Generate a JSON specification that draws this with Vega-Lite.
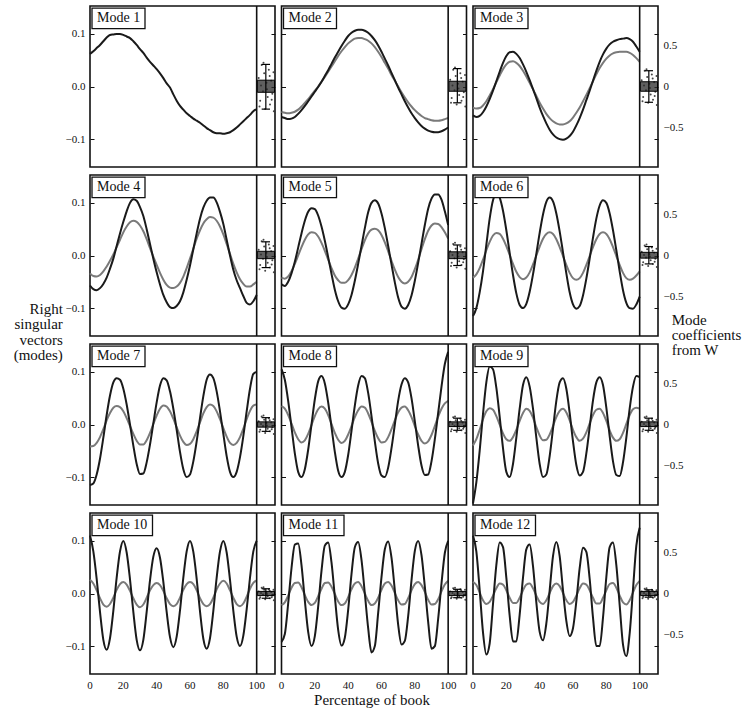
{
"$schema":"https://vega.github.io/schema/vega-lite/v6.json",
"background":"white",
"padding":{"left":13,"top":4,"right":1,"bottom":5},
"bounds":"flush",
"data":{"values":[
{"t":"E","m":1,"label":"Mode 1","hi":0.042,"lo":-0.043,"bhi":0.012,"blo":-0.011},
{"t":"E","m":2,"label":"Mode 2","hi":0.034,"lo":-0.031,"bhi":0.010,"blo":-0.009},
{"t":"E","m":3,"label":"Mode 3","hi":0.030,"lo":-0.030,"bhi":0.009,"blo":-0.009},
{"t":"E","m":4,"label":"Mode 4","hi":0.026,"lo":-0.023,"bhi":0.008,"blo":-0.006},
{"t":"E","m":5,"label":"Mode 5","hi":0.020,"lo":-0.019,"bhi":0.007,"blo":-0.006},
{"t":"E","m":6,"label":"Mode 6","hi":0.017,"lo":-0.016,"bhi":0.006,"blo":-0.005},
{"t":"E","m":7,"label":"Mode 7","hi":0.013,"lo":-0.013,"bhi":0.005,"blo":-0.005},
{"t":"E","m":8,"label":"Mode 8","hi":0.012,"lo":-0.011,"bhi":0.005,"blo":-0.004},
{"t":"E","m":9,"label":"Mode 9","hi":0.012,"lo":-0.011,"bhi":0.005,"blo":-0.004},
{"t":"E","m":10,"label":"Mode 10","hi":0.009,"lo":-0.009,"bhi":0.004,"blo":-0.004},
{"t":"E","m":11,"label":"Mode 11","hi":0.008,"lo":-0.008,"bhi":0.004,"blo":-0.004},
{"t":"E","m":12,"label":"Mode 12","hi":0.007,"lo":-0.007,"bhi":0.004,"blo":-0.004},

{"t":"X","m":10,"v":0},{"t":"X","m":10,"v":20},{"t":"X","m":10,"v":40},{"t":"X","m":10,"v":60},{"t":"X","m":10,"v":80},{"t":"X","m":10,"v":100},
{"t":"X","m":11,"v":0},{"t":"X","m":11,"v":20},{"t":"X","m":11,"v":40},{"t":"X","m":11,"v":60},{"t":"X","m":11,"v":80},{"t":"X","m":11,"v":100},
{"t":"X","m":12,"v":0},{"t":"X","m":12,"v":20},{"t":"X","m":12,"v":40},{"t":"X","m":12,"v":60},{"t":"X","m":12,"v":80},{"t":"X","m":12,"v":100},

{"t":"L","m":1,"x":0,"d":0.062},{"t":"L","m":1,"x":2,"d":0.067},{"t":"L","m":1,"x":4,"d":0.073},{"t":"L","m":1,"x":6,"d":0.079},{"t":"L","m":1,"x":8,"d":0.086},{"t":"L","m":1,"x":10,"d":0.093},{"t":"L","m":1,"x":12,"d":0.098},{"t":"L","m":1,"x":14,"d":0.099},{"t":"L","m":1,"x":16,"d":0.100},{"t":"L","m":1,"x":18,"d":0.100},{"t":"L","m":1,"x":20,"d":0.098},{"t":"L","m":1,"x":22,"d":0.095},{"t":"L","m":1,"x":24,"d":0.092},{"t":"L","m":1,"x":26,"d":0.086},{"t":"L","m":1,"x":28,"d":0.079},{"t":"L","m":1,"x":30,"d":0.071},{"t":"L","m":1,"x":32,"d":0.064},{"t":"L","m":1,"x":34,"d":0.055},{"t":"L","m":1,"x":36,"d":0.047},{"t":"L","m":1,"x":38,"d":0.040},{"t":"L","m":1,"x":40,"d":0.033},{"t":"L","m":1,"x":42,"d":0.025},{"t":"L","m":1,"x":44,"d":0.016},{"t":"L","m":1,"x":46,"d":0.006},{"t":"L","m":1,"x":48,"d":-0.002},{"t":"L","m":1,"x":50,"d":-0.015},{"t":"L","m":1,"x":52,"d":-0.027},{"t":"L","m":1,"x":54,"d":-0.037},{"t":"L","m":1,"x":56,"d":-0.044},{"t":"L","m":1,"x":58,"d":-0.051},{"t":"L","m":1,"x":60,"d":-0.056},{"t":"L","m":1,"x":62,"d":-0.061},{"t":"L","m":1,"x":64,"d":-0.065},{"t":"L","m":1,"x":66,"d":-0.069},{"t":"L","m":1,"x":68,"d":-0.074},{"t":"L","m":1,"x":70,"d":-0.079},{"t":"L","m":1,"x":72,"d":-0.083},{"t":"L","m":1,"x":74,"d":-0.087},{"t":"L","m":1,"x":76,"d":-0.089},{"t":"L","m":1,"x":78,"d":-0.089},{"t":"L","m":1,"x":80,"d":-0.090},{"t":"L","m":1,"x":82,"d":-0.089},{"t":"L","m":1,"x":84,"d":-0.087},{"t":"L","m":1,"x":86,"d":-0.083},{"t":"L","m":1,"x":88,"d":-0.078},{"t":"L","m":1,"x":90,"d":-0.072},{"t":"L","m":1,"x":92,"d":-0.066},{"t":"L","m":1,"x":94,"d":-0.060},{"t":"L","m":1,"x":96,"d":-0.054},{"t":"L","m":1,"x":98,"d":-0.047},{"t":"L","m":1,"x":100,"d":-0.043},

{"t":"L","m":2,"x":0,"d":-0.058,"g":-0.048},{"t":"L","m":2,"x":2,"d":-0.060,"g":-0.050},{"t":"L","m":2,"x":4,"d":-0.062,"g":-0.051},{"t":"L","m":2,"x":6,"d":-0.061,"g":-0.050},{"t":"L","m":2,"x":8,"d":-0.058,"g":-0.048},{"t":"L","m":2,"x":10,"d":-0.052,"g":-0.044},{"t":"L","m":2,"x":12,"d":-0.045,"g":-0.038},{"t":"L","m":2,"x":14,"d":-0.037,"g":-0.031},{"t":"L","m":2,"x":16,"d":-0.028,"g":-0.024},{"t":"L","m":2,"x":18,"d":-0.019,"g":-0.016},{"t":"L","m":2,"x":20,"d":-0.010,"g":-0.008},{"t":"L","m":2,"x":22,"d":-0.001,"g":0.000},{"t":"L","m":2,"x":24,"d":0.009,"g":0.009},{"t":"L","m":2,"x":26,"d":0.020,"g":0.018},{"t":"L","m":2,"x":28,"d":0.031,"g":0.028},{"t":"L","m":2,"x":30,"d":0.043,"g":0.038},{"t":"L","m":2,"x":32,"d":0.055,"g":0.048},{"t":"L","m":2,"x":34,"d":0.066,"g":0.058},{"t":"L","m":2,"x":36,"d":0.077,"g":0.067},{"t":"L","m":2,"x":38,"d":0.087,"g":0.075},{"t":"L","m":2,"x":40,"d":0.096,"g":0.082},{"t":"L","m":2,"x":42,"d":0.102,"g":0.087},{"t":"L","m":2,"x":44,"d":0.106,"g":0.091},{"t":"L","m":2,"x":46,"d":0.108,"g":0.092},{"t":"L","m":2,"x":48,"d":0.108,"g":0.092},{"t":"L","m":2,"x":50,"d":0.106,"g":0.090},{"t":"L","m":2,"x":52,"d":0.102,"g":0.087},{"t":"L","m":2,"x":54,"d":0.096,"g":0.082},{"t":"L","m":2,"x":56,"d":0.088,"g":0.075},{"t":"L","m":2,"x":58,"d":0.078,"g":0.066},{"t":"L","m":2,"x":60,"d":0.066,"g":0.056},{"t":"L","m":2,"x":62,"d":0.053,"g":0.045},{"t":"L","m":2,"x":64,"d":0.040,"g":0.034},{"t":"L","m":2,"x":66,"d":0.026,"g":0.022},{"t":"L","m":2,"x":68,"d":0.012,"g":0.011},{"t":"L","m":2,"x":70,"d":-0.002,"g":0.000},{"t":"L","m":2,"x":72,"d":-0.015,"g":-0.011},{"t":"L","m":2,"x":74,"d":-0.028,"g":-0.021},{"t":"L","m":2,"x":76,"d":-0.040,"g":-0.030},{"t":"L","m":2,"x":78,"d":-0.051,"g":-0.038},{"t":"L","m":2,"x":80,"d":-0.060,"g":-0.045},{"t":"L","m":2,"x":82,"d":-0.068,"g":-0.051},{"t":"L","m":2,"x":84,"d":-0.075,"g":-0.056},{"t":"L","m":2,"x":86,"d":-0.080,"g":-0.060},{"t":"L","m":2,"x":88,"d":-0.084,"g":-0.062},{"t":"L","m":2,"x":90,"d":-0.086,"g":-0.064},{"t":"L","m":2,"x":92,"d":-0.087,"g":-0.065},{"t":"L","m":2,"x":94,"d":-0.087,"g":-0.065},{"t":"L","m":2,"x":96,"d":-0.085,"g":-0.064},{"t":"L","m":2,"x":98,"d":-0.082,"g":-0.062},{"t":"L","m":2,"x":100,"d":-0.078,"g":-0.060},

{"t":"L","m":3,"x":0,"d":-0.055,"g":-0.040},{"t":"L","m":3,"x":2,"d":-0.058,"g":-0.042},{"t":"L","m":3,"x":4,"d":-0.056,"g":-0.041},{"t":"L","m":3,"x":6,"d":-0.049,"g":-0.036},{"t":"L","m":3,"x":8,"d":-0.038,"g":-0.028},{"t":"L","m":3,"x":10,"d":-0.024,"g":-0.017},{"t":"L","m":3,"x":12,"d":-0.008,"g":-0.005},{"t":"L","m":3,"x":14,"d":0.010,"g":0.008},{"t":"L","m":3,"x":16,"d":0.028,"g":0.021},{"t":"L","m":3,"x":18,"d":0.045,"g":0.033},{"t":"L","m":3,"x":20,"d":0.058,"g":0.042},{"t":"L","m":3,"x":22,"d":0.065,"g":0.047},{"t":"L","m":3,"x":24,"d":0.066,"g":0.048},{"t":"L","m":3,"x":26,"d":0.062,"g":0.045},{"t":"L","m":3,"x":28,"d":0.054,"g":0.039},{"t":"L","m":3,"x":30,"d":0.042,"g":0.030},{"t":"L","m":3,"x":32,"d":0.028,"g":0.019},{"t":"L","m":3,"x":34,"d":0.012,"g":0.007},{"t":"L","m":3,"x":36,"d":-0.005,"g":-0.005},{"t":"L","m":3,"x":38,"d":-0.022,"g":-0.018},{"t":"L","m":3,"x":40,"d":-0.040,"g":-0.031},{"t":"L","m":3,"x":42,"d":-0.056,"g":-0.042},{"t":"L","m":3,"x":44,"d":-0.070,"g":-0.052},{"t":"L","m":3,"x":46,"d":-0.082,"g":-0.060},{"t":"L","m":3,"x":48,"d":-0.091,"g":-0.066},{"t":"L","m":3,"x":50,"d":-0.097,"g":-0.070},{"t":"L","m":3,"x":52,"d":-0.100,"g":-0.072},{"t":"L","m":3,"x":54,"d":-0.101,"g":-0.072},{"t":"L","m":3,"x":56,"d":-0.099,"g":-0.070},{"t":"L","m":3,"x":58,"d":-0.094,"g":-0.066},{"t":"L","m":3,"x":60,"d":-0.086,"g":-0.059},{"t":"L","m":3,"x":62,"d":-0.074,"g":-0.050},{"t":"L","m":3,"x":64,"d":-0.060,"g":-0.040},{"t":"L","m":3,"x":66,"d":-0.044,"g":-0.028},{"t":"L","m":3,"x":68,"d":-0.026,"g":-0.016},{"t":"L","m":3,"x":70,"d":-0.008,"g":-0.003},{"t":"L","m":3,"x":72,"d":0.011,"g":0.010},{"t":"L","m":3,"x":74,"d":0.030,"g":0.023},{"t":"L","m":3,"x":76,"d":0.047,"g":0.035},{"t":"L","m":3,"x":78,"d":0.061,"g":0.045},{"t":"L","m":3,"x":80,"d":0.072,"g":0.053},{"t":"L","m":3,"x":82,"d":0.080,"g":0.059},{"t":"L","m":3,"x":84,"d":0.085,"g":0.063},{"t":"L","m":3,"x":86,"d":0.088,"g":0.065},{"t":"L","m":3,"x":88,"d":0.090,"g":0.066},{"t":"L","m":3,"x":90,"d":0.091,"g":0.066},{"t":"L","m":3,"x":92,"d":0.092,"g":0.066},{"t":"L","m":3,"x":94,"d":0.090,"g":0.064},{"t":"L","m":3,"x":96,"d":0.085,"g":0.060},{"t":"L","m":3,"x":98,"d":0.076,"g":0.054},{"t":"L","m":3,"x":100,"d":0.066,"g":0.047},

{"t":"L","m":4,"x":0,"d":-0.057,"g":-0.034},{"t":"L","m":4,"x":2,"d":-0.064,"g":-0.039},{"t":"L","m":4,"x":4,"d":-0.066,"g":-0.040},{"t":"L","m":4,"x":6,"d":-0.062,"g":-0.037},{"t":"L","m":4,"x":8,"d":-0.054,"g":-0.030},{"t":"L","m":4,"x":10,"d":-0.042,"g":-0.021},{"t":"L","m":4,"x":12,"d":-0.025,"g":-0.010},{"t":"L","m":4,"x":14,"d":-0.006,"g":0.002},{"t":"L","m":4,"x":16,"d":0.018,"g":0.016},{"t":"L","m":4,"x":18,"d":0.042,"g":0.030},{"t":"L","m":4,"x":20,"d":0.064,"g":0.044},{"t":"L","m":4,"x":22,"d":0.084,"g":0.055},{"t":"L","m":4,"x":24,"d":0.100,"g":0.063},{"t":"L","m":4,"x":26,"d":0.107,"g":0.066},{"t":"L","m":4,"x":28,"d":0.104,"g":0.064},{"t":"L","m":4,"x":30,"d":0.092,"g":0.057},{"t":"L","m":4,"x":32,"d":0.075,"g":0.046},{"t":"L","m":4,"x":34,"d":0.050,"g":0.031},{"t":"L","m":4,"x":36,"d":0.022,"g":0.014},{"t":"L","m":4,"x":38,"d":-0.006,"g":-0.002},{"t":"L","m":4,"x":40,"d":-0.032,"g":-0.018},{"t":"L","m":4,"x":42,"d":-0.055,"g":-0.033},{"t":"L","m":4,"x":44,"d":-0.075,"g":-0.046},{"t":"L","m":4,"x":46,"d":-0.089,"g":-0.056},{"t":"L","m":4,"x":48,"d":-0.098,"g":-0.061},{"t":"L","m":4,"x":50,"d":-0.100,"g":-0.062},{"t":"L","m":4,"x":52,"d":-0.096,"g":-0.059},{"t":"L","m":4,"x":54,"d":-0.087,"g":-0.052},{"t":"L","m":4,"x":56,"d":-0.070,"g":-0.040},{"t":"L","m":4,"x":58,"d":-0.046,"g":-0.024},{"t":"L","m":4,"x":60,"d":-0.019,"g":-0.006},{"t":"L","m":4,"x":62,"d":0.012,"g":0.013},{"t":"L","m":4,"x":64,"d":0.042,"g":0.032},{"t":"L","m":4,"x":66,"d":0.070,"g":0.048},{"t":"L","m":4,"x":68,"d":0.091,"g":0.061},{"t":"L","m":4,"x":70,"d":0.104,"g":0.069},{"t":"L","m":4,"x":72,"d":0.110,"g":0.073},{"t":"L","m":4,"x":74,"d":0.110,"g":0.072},{"t":"L","m":4,"x":76,"d":0.101,"g":0.066},{"t":"L","m":4,"x":78,"d":0.083,"g":0.055},{"t":"L","m":4,"x":80,"d":0.060,"g":0.040},{"t":"L","m":4,"x":82,"d":0.030,"g":0.022},{"t":"L","m":4,"x":84,"d":0.000,"g":0.003},{"t":"L","m":4,"x":86,"d":-0.027,"g":-0.016},{"t":"L","m":4,"x":88,"d":-0.047,"g":-0.032},{"t":"L","m":4,"x":90,"d":-0.062,"g":-0.045},{"t":"L","m":4,"x":92,"d":-0.077,"g":-0.054},{"t":"L","m":4,"x":94,"d":-0.090,"g":-0.059},{"t":"L","m":4,"x":96,"d":-0.093,"g":-0.059},{"t":"L","m":4,"x":98,"d":-0.087,"g":-0.055},{"t":"L","m":4,"x":100,"d":-0.075,"g":-0.050},

{"t":"L","m":5,"x":0,"d":-0.055,"g":-0.042},{"t":"L","m":5,"x":2,"d":-0.058,"g":-0.044},{"t":"L","m":5,"x":4,"d":-0.050,"g":-0.040},{"t":"L","m":5,"x":6,"d":-0.034,"g":-0.030},{"t":"L","m":5,"x":8,"d":-0.012,"g":-0.016},{"t":"L","m":5,"x":10,"d":0.015,"g":0.000},{"t":"L","m":5,"x":12,"d":0.042,"g":0.016},{"t":"L","m":5,"x":14,"d":0.066,"g":0.030},{"t":"L","m":5,"x":16,"d":0.083,"g":0.040},{"t":"L","m":5,"x":18,"d":0.090,"g":0.044},{"t":"L","m":5,"x":20,"d":0.088,"g":0.043},{"t":"L","m":5,"x":22,"d":0.076,"g":0.036},{"t":"L","m":5,"x":24,"d":0.055,"g":0.024},{"t":"L","m":5,"x":26,"d":0.028,"g":0.009},{"t":"L","m":5,"x":28,"d":-0.003,"g":-0.008},{"t":"L","m":5,"x":30,"d":-0.035,"g":-0.024},{"t":"L","m":5,"x":32,"d":-0.065,"g":-0.038},{"t":"L","m":5,"x":34,"d":-0.087,"g":-0.047},{"t":"L","m":5,"x":36,"d":-0.099,"g":-0.052},{"t":"L","m":5,"x":38,"d":-0.101,"g":-0.052},{"t":"L","m":5,"x":40,"d":-0.093,"g":-0.047},{"t":"L","m":5,"x":42,"d":-0.075,"g":-0.037},{"t":"L","m":5,"x":44,"d":-0.048,"g":-0.023},{"t":"L","m":5,"x":46,"d":-0.016,"g":-0.006},{"t":"L","m":5,"x":48,"d":0.018,"g":0.012},{"t":"L","m":5,"x":50,"d":0.052,"g":0.029},{"t":"L","m":5,"x":52,"d":0.082,"g":0.042},{"t":"L","m":5,"x":54,"d":0.100,"g":0.049},{"t":"L","m":5,"x":56,"d":0.105,"g":0.051},{"t":"L","m":5,"x":58,"d":0.099,"g":0.048},{"t":"L","m":5,"x":60,"d":0.080,"g":0.039},{"t":"L","m":5,"x":62,"d":0.052,"g":0.025},{"t":"L","m":5,"x":64,"d":0.018,"g":0.008},{"t":"L","m":5,"x":66,"d":-0.017,"g":-0.010},{"t":"L","m":5,"x":68,"d":-0.051,"g":-0.027},{"t":"L","m":5,"x":70,"d":-0.080,"g":-0.041},{"t":"L","m":5,"x":72,"d":-0.097,"g":-0.050},{"t":"L","m":5,"x":74,"d":-0.101,"g":-0.053},{"t":"L","m":5,"x":76,"d":-0.094,"g":-0.050},{"t":"L","m":5,"x":78,"d":-0.076,"g":-0.041},{"t":"L","m":5,"x":80,"d":-0.048,"g":-0.026},{"t":"L","m":5,"x":82,"d":-0.014,"g":-0.008},{"t":"L","m":5,"x":84,"d":0.022,"g":0.012},{"t":"L","m":5,"x":86,"d":0.058,"g":0.031},{"t":"L","m":5,"x":88,"d":0.089,"g":0.047},{"t":"L","m":5,"x":90,"d":0.108,"g":0.057},{"t":"L","m":5,"x":92,"d":0.116,"g":0.061},{"t":"L","m":5,"x":94,"d":0.116,"g":0.060},{"t":"L","m":5,"x":96,"d":0.106,"g":0.054},{"t":"L","m":5,"x":98,"d":0.084,"g":0.044},{"t":"L","m":5,"x":100,"d":0.058,"g":0.032},

{"t":"L","m":6,"x":0,"d":-0.115,"g":-0.042},{"t":"L","m":6,"x":2,"d":-0.100,"g":-0.036},{"t":"L","m":6,"x":4,"d":-0.070,"g":-0.024},{"t":"L","m":6,"x":6,"d":-0.030,"g":-0.008},{"t":"L","m":6,"x":8,"d":0.020,"g":0.010},{"t":"L","m":6,"x":10,"d":0.070,"g":0.026},{"t":"L","m":6,"x":12,"d":0.105,"g":0.038},{"t":"L","m":6,"x":14,"d":0.118,"g":0.043},{"t":"L","m":6,"x":16,"d":0.110,"g":0.041},{"t":"L","m":6,"x":18,"d":0.085,"g":0.032},{"t":"L","m":6,"x":20,"d":0.048,"g":0.018},{"t":"L","m":6,"x":22,"d":0.005,"g":0.001},{"t":"L","m":6,"x":24,"d":-0.037,"g":-0.016},{"t":"L","m":6,"x":26,"d":-0.072,"g":-0.031},{"t":"L","m":6,"x":28,"d":-0.094,"g":-0.041},{"t":"L","m":6,"x":30,"d":-0.100,"g":-0.045},{"t":"L","m":6,"x":32,"d":-0.092,"g":-0.042},{"t":"L","m":6,"x":34,"d":-0.069,"g":-0.032},{"t":"L","m":6,"x":36,"d":-0.036,"g":-0.017},{"t":"L","m":6,"x":38,"d":0.003,"g":0.000},{"t":"L","m":6,"x":40,"d":0.043,"g":0.017},{"t":"L","m":6,"x":42,"d":0.078,"g":0.032},{"t":"L","m":6,"x":44,"d":0.102,"g":0.041},{"t":"L","m":6,"x":46,"d":0.110,"g":0.044},{"t":"L","m":6,"x":48,"d":0.103,"g":0.041},{"t":"L","m":6,"x":50,"d":0.080,"g":0.031},{"t":"L","m":6,"x":52,"d":0.046,"g":0.016},{"t":"L","m":6,"x":54,"d":0.006,"g":-0.001},{"t":"L","m":6,"x":56,"d":-0.034,"g":-0.018},{"t":"L","m":6,"x":58,"d":-0.070,"g":-0.033},{"t":"L","m":6,"x":60,"d":-0.093,"g":-0.043},{"t":"L","m":6,"x":62,"d":-0.101,"g":-0.046},{"t":"L","m":6,"x":64,"d":-0.096,"g":-0.043},{"t":"L","m":6,"x":66,"d":-0.076,"g":-0.033},{"t":"L","m":6,"x":68,"d":-0.044,"g":-0.018},{"t":"L","m":6,"x":70,"d":-0.006,"g":-0.001},{"t":"L","m":6,"x":72,"d":0.034,"g":0.016},{"t":"L","m":6,"x":74,"d":0.070,"g":0.031},{"t":"L","m":6,"x":76,"d":0.095,"g":0.041},{"t":"L","m":6,"x":78,"d":0.105,"g":0.044},{"t":"L","m":6,"x":80,"d":0.100,"g":0.041},{"t":"L","m":6,"x":82,"d":0.080,"g":0.031},{"t":"L","m":6,"x":84,"d":0.048,"g":0.016},{"t":"L","m":6,"x":86,"d":0.010,"g":-0.001},{"t":"L","m":6,"x":88,"d":-0.030,"g":-0.018},{"t":"L","m":6,"x":90,"d":-0.066,"g":-0.033},{"t":"L","m":6,"x":92,"d":-0.090,"g":-0.043},{"t":"L","m":6,"x":94,"d":-0.100,"g":-0.046},{"t":"L","m":6,"x":96,"d":-0.101,"g":-0.044},{"t":"L","m":6,"x":98,"d":-0.093,"g":-0.038},{"t":"L","m":6,"x":100,"d":-0.078,"g":-0.030},

{"t":"L","m":7,"x":0,"d":-0.115,"g":-0.042},{"t":"L","m":7,"x":2,"d":-0.112,"g":-0.041},{"t":"L","m":7,"x":4,"d":-0.095,"g":-0.035},{"t":"L","m":7,"x":6,"d":-0.065,"g":-0.024},{"t":"L","m":7,"x":8,"d":-0.025,"g":-0.009},{"t":"L","m":7,"x":10,"d":0.018,"g":0.008},{"t":"L","m":7,"x":12,"d":0.055,"g":0.022},{"t":"L","m":7,"x":14,"d":0.080,"g":0.032},{"t":"L","m":7,"x":16,"d":0.088,"g":0.035},{"t":"L","m":7,"x":18,"d":0.085,"g":0.033},{"t":"L","m":7,"x":20,"d":0.068,"g":0.025},{"t":"L","m":7,"x":22,"d":0.038,"g":0.012},{"t":"L","m":7,"x":24,"d":0.000,"g":-0.003},{"t":"L","m":7,"x":26,"d":-0.040,"g":-0.018},{"t":"L","m":7,"x":28,"d":-0.075,"g":-0.031},{"t":"L","m":7,"x":30,"d":-0.094,"g":-0.038},{"t":"L","m":7,"x":32,"d":-0.093,"g":-0.038},{"t":"L","m":7,"x":34,"d":-0.072,"g":-0.030},{"t":"L","m":7,"x":36,"d":-0.038,"g":-0.016},{"t":"L","m":7,"x":38,"d":0.002,"g":0.001},{"t":"L","m":7,"x":40,"d":0.042,"g":0.017},{"t":"L","m":7,"x":42,"d":0.074,"g":0.030},{"t":"L","m":7,"x":44,"d":0.088,"g":0.036},{"t":"L","m":7,"x":46,"d":0.084,"g":0.034},{"t":"L","m":7,"x":48,"d":0.063,"g":0.025},{"t":"L","m":7,"x":50,"d":0.030,"g":0.011},{"t":"L","m":7,"x":52,"d":-0.010,"g":-0.005},{"t":"L","m":7,"x":54,"d":-0.052,"g":-0.021},{"t":"L","m":7,"x":56,"d":-0.085,"g":-0.033},{"t":"L","m":7,"x":58,"d":-0.100,"g":-0.039},{"t":"L","m":7,"x":60,"d":-0.095,"g":-0.037},{"t":"L","m":7,"x":62,"d":-0.070,"g":-0.028},{"t":"L","m":7,"x":64,"d":-0.032,"g":-0.013},{"t":"L","m":7,"x":66,"d":0.012,"g":0.004},{"t":"L","m":7,"x":68,"d":0.054,"g":0.021},{"t":"L","m":7,"x":70,"d":0.085,"g":0.033},{"t":"L","m":7,"x":72,"d":0.095,"g":0.038},{"t":"L","m":7,"x":74,"d":0.088,"g":0.035},{"t":"L","m":7,"x":76,"d":0.063,"g":0.025},{"t":"L","m":7,"x":78,"d":0.025,"g":0.010},{"t":"L","m":7,"x":80,"d":-0.018,"g":-0.007},{"t":"L","m":7,"x":82,"d":-0.060,"g":-0.023},{"t":"L","m":7,"x":84,"d":-0.090,"g":-0.035},{"t":"L","m":7,"x":86,"d":-0.100,"g":-0.039},{"t":"L","m":7,"x":88,"d":-0.090,"g":-0.035},{"t":"L","m":7,"x":90,"d":-0.062,"g":-0.024},{"t":"L","m":7,"x":92,"d":-0.022,"g":-0.008},{"t":"L","m":7,"x":94,"d":0.025,"g":0.010},{"t":"L","m":7,"x":96,"d":0.068,"g":0.026},{"t":"L","m":7,"x":98,"d":0.096,"g":0.036},{"t":"L","m":7,"x":100,"d":0.100,"g":0.038},

{"t":"L","m":8,"x":0,"d":0.105,"g":0.035},{"t":"L","m":8,"x":2,"d":0.085,"g":0.030},{"t":"L","m":8,"x":4,"d":0.045,"g":0.018},{"t":"L","m":8,"x":6,"d":-0.005,"g":0.002},{"t":"L","m":8,"x":8,"d":-0.055,"g":-0.015},{"t":"L","m":8,"x":10,"d":-0.090,"g":-0.028},{"t":"L","m":8,"x":12,"d":-0.100,"g":-0.034},{"t":"L","m":8,"x":14,"d":-0.085,"g":-0.030},{"t":"L","m":8,"x":16,"d":-0.048,"g":-0.018},{"t":"L","m":8,"x":18,"d":0.000,"g":-0.001},{"t":"L","m":8,"x":20,"d":0.048,"g":0.016},{"t":"L","m":8,"x":22,"d":0.082,"g":0.029},{"t":"L","m":8,"x":24,"d":0.092,"g":0.034},{"t":"L","m":8,"x":26,"d":0.078,"g":0.030},{"t":"L","m":8,"x":28,"d":0.042,"g":0.018},{"t":"L","m":8,"x":30,"d":-0.005,"g":0.001},{"t":"L","m":8,"x":32,"d":-0.052,"g":-0.016},{"t":"L","m":8,"x":34,"d":-0.088,"g":-0.029},{"t":"L","m":8,"x":36,"d":-0.100,"g":-0.035},{"t":"L","m":8,"x":38,"d":-0.090,"g":-0.031},{"t":"L","m":8,"x":40,"d":-0.058,"g":-0.019},{"t":"L","m":8,"x":42,"d":-0.012,"g":-0.003},{"t":"L","m":8,"x":44,"d":0.036,"g":0.014},{"t":"L","m":8,"x":46,"d":0.074,"g":0.027},{"t":"L","m":8,"x":48,"d":0.092,"g":0.034},{"t":"L","m":8,"x":50,"d":0.088,"g":0.032},{"t":"L","m":8,"x":52,"d":0.060,"g":0.021},{"t":"L","m":8,"x":54,"d":0.016,"g":0.005},{"t":"L","m":8,"x":56,"d":-0.032,"g":-0.012},{"t":"L","m":8,"x":58,"d":-0.074,"g":-0.026},{"t":"L","m":8,"x":60,"d":-0.097,"g":-0.034},{"t":"L","m":8,"x":62,"d":-0.100,"g":-0.033},{"t":"L","m":8,"x":64,"d":-0.082,"g":-0.024},{"t":"L","m":8,"x":66,"d":-0.045,"g":-0.009},{"t":"L","m":8,"x":68,"d":0.000,"g":0.008},{"t":"L","m":8,"x":70,"d":0.045,"g":0.023},{"t":"L","m":8,"x":72,"d":0.076,"g":0.032},{"t":"L","m":8,"x":74,"d":0.088,"g":0.034},{"t":"L","m":8,"x":76,"d":0.080,"g":0.027},{"t":"L","m":8,"x":78,"d":0.050,"g":0.014},{"t":"L","m":8,"x":80,"d":0.006,"g":-0.003},{"t":"L","m":8,"x":82,"d":-0.040,"g":-0.019},{"t":"L","m":8,"x":84,"d":-0.078,"g":-0.031},{"t":"L","m":8,"x":86,"d":-0.096,"g":-0.036},{"t":"L","m":8,"x":88,"d":-0.095,"g":-0.032},{"t":"L","m":8,"x":90,"d":-0.070,"g":-0.020},{"t":"L","m":8,"x":92,"d":-0.028,"g":-0.003},{"t":"L","m":8,"x":94,"d":0.022,"g":0.015},{"t":"L","m":8,"x":96,"d":0.072,"g":0.030},{"t":"L","m":8,"x":98,"d":0.115,"g":0.040},{"t":"L","m":8,"x":100,"d":0.138,"g":0.045},

{"t":"L","m":9,"x":0,"d":-0.150,"g":-0.040},{"t":"L","m":9,"x":2,"d":-0.110,"g":-0.028},{"t":"L","m":9,"x":4,"d":-0.050,"g":-0.010},{"t":"L","m":9,"x":6,"d":0.020,"g":0.010},{"t":"L","m":9,"x":8,"d":0.080,"g":0.025},{"t":"L","m":9,"x":10,"d":0.110,"g":0.031},{"t":"L","m":9,"x":12,"d":0.105,"g":0.028},{"t":"L","m":9,"x":14,"d":0.070,"g":0.016},{"t":"L","m":9,"x":16,"d":0.015,"g":0.000},{"t":"L","m":9,"x":18,"d":-0.045,"g":-0.017},{"t":"L","m":9,"x":20,"d":-0.090,"g":-0.028},{"t":"L","m":9,"x":22,"d":-0.100,"g":-0.031},{"t":"L","m":9,"x":24,"d":-0.075,"g":-0.024},{"t":"L","m":9,"x":26,"d":-0.025,"g":-0.010},{"t":"L","m":9,"x":28,"d":0.030,"g":0.007},{"t":"L","m":9,"x":30,"d":0.075,"g":0.022},{"t":"L","m":9,"x":32,"d":0.090,"g":0.030},{"t":"L","m":9,"x":34,"d":0.072,"g":0.026},{"t":"L","m":9,"x":36,"d":0.030,"g":0.013},{"t":"L","m":9,"x":38,"d":-0.025,"g":-0.005},{"t":"L","m":9,"x":40,"d":-0.075,"g":-0.021},{"t":"L","m":9,"x":42,"d":-0.100,"g":-0.030},{"t":"L","m":9,"x":44,"d":-0.095,"g":-0.029},{"t":"L","m":9,"x":46,"d":-0.060,"g":-0.019},{"t":"L","m":9,"x":48,"d":-0.008,"g":-0.003},{"t":"L","m":9,"x":50,"d":0.045,"g":0.014},{"t":"L","m":9,"x":52,"d":0.080,"g":0.026},{"t":"L","m":9,"x":54,"d":0.088,"g":0.030},{"t":"L","m":9,"x":56,"d":0.068,"g":0.023},{"t":"L","m":9,"x":58,"d":0.022,"g":0.008},{"t":"L","m":9,"x":60,"d":-0.032,"g":-0.010},{"t":"L","m":9,"x":62,"d":-0.077,"g":-0.024},{"t":"L","m":9,"x":64,"d":-0.097,"g":-0.031},{"t":"L","m":9,"x":66,"d":-0.090,"g":-0.027},{"t":"L","m":9,"x":68,"d":-0.055,"g":-0.015},{"t":"L","m":9,"x":70,"d":-0.005,"g":0.002},{"t":"L","m":9,"x":72,"d":0.046,"g":0.018},{"t":"L","m":9,"x":74,"d":0.080,"g":0.028},{"t":"L","m":9,"x":76,"d":0.090,"g":0.030},{"t":"L","m":9,"x":78,"d":0.075,"g":0.022},{"t":"L","m":9,"x":80,"d":0.032,"g":0.007},{"t":"L","m":9,"x":82,"d":-0.022,"g":-0.011},{"t":"L","m":9,"x":84,"d":-0.070,"g":-0.025},{"t":"L","m":9,"x":86,"d":-0.096,"g":-0.031},{"t":"L","m":9,"x":88,"d":-0.098,"g":-0.028},{"t":"L","m":9,"x":90,"d":-0.072,"g":-0.016},{"t":"L","m":9,"x":92,"d":-0.025,"g":0.001},{"t":"L","m":9,"x":94,"d":0.030,"g":0.018},{"t":"L","m":9,"x":96,"d":0.072,"g":0.029},{"t":"L","m":9,"x":98,"d":0.092,"g":0.032},{"t":"L","m":9,"x":100,"d":0.090,"g":0.030},

{"t":"L","m":10,"x":0,"d":0.110,"g":0.026},{"t":"L","m":10,"x":2,"d":0.080,"g":0.019},{"t":"L","m":10,"x":4,"d":0.028,"g":0.006},{"t":"L","m":10,"x":6,"d":-0.035,"g":-0.009},{"t":"L","m":10,"x":8,"d":-0.088,"g":-0.021},{"t":"L","m":10,"x":10,"d":-0.107,"g":-0.025},{"t":"L","m":10,"x":12,"d":-0.085,"g":-0.020},{"t":"L","m":10,"x":14,"d":-0.033,"g":-0.008},{"t":"L","m":10,"x":16,"d":0.030,"g":0.007},{"t":"L","m":10,"x":18,"d":0.080,"g":0.018},{"t":"L","m":10,"x":20,"d":0.100,"g":0.022},{"t":"L","m":10,"x":22,"d":0.078,"g":0.017},{"t":"L","m":10,"x":24,"d":0.027,"g":0.005},{"t":"L","m":10,"x":26,"d":-0.035,"g":-0.009},{"t":"L","m":10,"x":28,"d":-0.088,"g":-0.021},{"t":"L","m":10,"x":30,"d":-0.108,"g":-0.026},{"t":"L","m":10,"x":32,"d":-0.088,"g":-0.021},{"t":"L","m":10,"x":34,"d":-0.035,"g":-0.008},{"t":"L","m":10,"x":36,"d":0.025,"g":0.006},{"t":"L","m":10,"x":38,"d":0.070,"g":0.016},{"t":"L","m":10,"x":40,"d":0.086,"g":0.020},{"t":"L","m":10,"x":42,"d":0.068,"g":0.016},{"t":"L","m":10,"x":44,"d":0.022,"g":0.005},{"t":"L","m":10,"x":46,"d":-0.035,"g":-0.009},{"t":"L","m":10,"x":48,"d":-0.083,"g":-0.020},{"t":"L","m":10,"x":50,"d":-0.102,"g":-0.024},{"t":"L","m":10,"x":52,"d":-0.082,"g":-0.020},{"t":"L","m":10,"x":54,"d":-0.032,"g":-0.008},{"t":"L","m":10,"x":56,"d":0.030,"g":0.007},{"t":"L","m":10,"x":58,"d":0.080,"g":0.018},{"t":"L","m":10,"x":60,"d":0.100,"g":0.022},{"t":"L","m":10,"x":62,"d":0.079,"g":0.018},{"t":"L","m":10,"x":64,"d":0.028,"g":0.006},{"t":"L","m":10,"x":66,"d":-0.034,"g":-0.009},{"t":"L","m":10,"x":68,"d":-0.086,"g":-0.020},{"t":"L","m":10,"x":70,"d":-0.105,"g":-0.024},{"t":"L","m":10,"x":72,"d":-0.085,"g":-0.020},{"t":"L","m":10,"x":74,"d":-0.033,"g":-0.008},{"t":"L","m":10,"x":76,"d":0.030,"g":0.008},{"t":"L","m":10,"x":78,"d":0.080,"g":0.019},{"t":"L","m":10,"x":80,"d":0.100,"g":0.024},{"t":"L","m":10,"x":82,"d":0.078,"g":0.019},{"t":"L","m":10,"x":84,"d":0.026,"g":0.006},{"t":"L","m":10,"x":86,"d":-0.033,"g":-0.008},{"t":"L","m":10,"x":88,"d":-0.082,"g":-0.020},{"t":"L","m":10,"x":90,"d":-0.100,"g":-0.024},{"t":"L","m":10,"x":92,"d":-0.080,"g":-0.019},{"t":"L","m":10,"x":94,"d":-0.030,"g":-0.006},{"t":"L","m":10,"x":96,"d":0.030,"g":0.009},{"t":"L","m":10,"x":98,"d":0.080,"g":0.020},{"t":"L","m":10,"x":100,"d":0.100,"g":0.025},

{"t":"L","m":11,"x":0,"d":-0.092,"g":-0.022},{"t":"L","m":11,"x":2,"d":-0.077,"g":-0.017},{"t":"L","m":11,"x":4,"d":-0.019,"g":-0.004},{"t":"L","m":11,"x":6,"d":0.048,"g":0.011},{"t":"L","m":11,"x":8,"d":0.093,"g":0.020},{"t":"L","m":11,"x":10,"d":0.095,"g":0.021},{"t":"L","m":11,"x":12,"d":0.054,"g":0.012},{"t":"L","m":11,"x":14,"d":-0.013,"g":-0.003},{"t":"L","m":11,"x":16,"d":-0.073,"g":-0.016},{"t":"L","m":11,"x":18,"d":-0.100,"g":-0.022},{"t":"L","m":11,"x":20,"d":-0.081,"g":-0.018},{"t":"L","m":11,"x":22,"d":-0.025,"g":-0.005},{"t":"L","m":11,"x":24,"d":0.043,"g":0.009},{"t":"L","m":11,"x":26,"d":0.091,"g":0.020},{"t":"L","m":11,"x":28,"d":0.097,"g":0.021},{"t":"L","m":11,"x":30,"d":0.059,"g":0.013},{"t":"L","m":11,"x":32,"d":-0.006,"g":-0.001},{"t":"L","m":11,"x":34,"d":-0.069,"g":-0.015},{"t":"L","m":11,"x":36,"d":-0.099,"g":-0.022},{"t":"L","m":11,"x":38,"d":-0.084,"g":-0.019},{"t":"L","m":11,"x":40,"d":-0.031,"g":-0.007},{"t":"L","m":11,"x":42,"d":0.037,"g":0.008},{"t":"L","m":11,"x":44,"d":0.088,"g":0.019},{"t":"L","m":11,"x":46,"d":0.098,"g":0.022},{"t":"L","m":11,"x":48,"d":0.064,"g":0.014},{"t":"L","m":11,"x":50,"d":0.000,"g":0.000},{"t":"L","m":11,"x":52,"d":-0.066,"g":-0.014},{"t":"L","m":11,"x":54,"d":-0.112,"g":-0.022},{"t":"L","m":11,"x":56,"d":-0.100,"g":-0.019},{"t":"L","m":11,"x":58,"d":-0.037,"g":-0.008},{"t":"L","m":11,"x":60,"d":0.031,"g":0.007},{"t":"L","m":11,"x":62,"d":0.084,"g":0.019},{"t":"L","m":11,"x":64,"d":0.099,"g":0.022},{"t":"L","m":11,"x":66,"d":0.068,"g":0.015},{"t":"L","m":11,"x":68,"d":0.006,"g":0.001},{"t":"L","m":11,"x":70,"d":-0.059,"g":-0.013},{"t":"L","m":11,"x":72,"d":-0.097,"g":-0.021},{"t":"L","m":11,"x":74,"d":-0.090,"g":-0.020},{"t":"L","m":11,"x":76,"d":-0.043,"g":-0.009},{"t":"L","m":11,"x":78,"d":0.025,"g":0.006},{"t":"L","m":11,"x":80,"d":0.081,"g":0.018},{"t":"L","m":11,"x":82,"d":0.100,"g":0.022},{"t":"L","m":11,"x":84,"d":0.073,"g":0.016},{"t":"L","m":11,"x":86,"d":0.013,"g":0.003},{"t":"L","m":11,"x":88,"d":-0.054,"g":-0.012},{"t":"L","m":11,"x":90,"d":-0.105,"g":-0.021},{"t":"L","m":11,"x":92,"d":-0.100,"g":-0.020},{"t":"L","m":11,"x":94,"d":-0.048,"g":-0.011},{"t":"L","m":11,"x":96,"d":0.019,"g":0.004},{"t":"L","m":11,"x":98,"d":0.077,"g":0.017},{"t":"L","m":11,"x":100,"d":0.100,"g":0.024},

{"t":"L","m":12,"x":0,"d":0.110,"g":0.022},{"t":"L","m":12,"x":2,"d":0.080,"g":0.016},{"t":"L","m":12,"x":4,"d":0.007,"g":0.002},{"t":"L","m":12,"x":6,"d":-0.074,"g":-0.013},{"t":"L","m":12,"x":8,"d":-0.116,"g":-0.020},{"t":"L","m":12,"x":10,"d":-0.095,"g":-0.016},{"t":"L","m":12,"x":12,"d":-0.020,"g":-0.004},{"t":"L","m":12,"x":14,"d":0.054,"g":0.010},{"t":"L","m":12,"x":16,"d":0.097,"g":0.019},{"t":"L","m":12,"x":18,"d":0.088,"g":0.017},{"t":"L","m":12,"x":20,"d":0.030,"g":0.006},{"t":"L","m":12,"x":22,"d":-0.042,"g":-0.008},{"t":"L","m":12,"x":24,"d":-0.091,"g":-0.018},{"t":"L","m":12,"x":26,"d":-0.091,"g":-0.018},{"t":"L","m":12,"x":28,"d":-0.040,"g":-0.008},{"t":"L","m":12,"x":30,"d":0.030,"g":0.006},{"t":"L","m":12,"x":32,"d":0.084,"g":0.017},{"t":"L","m":12,"x":34,"d":0.093,"g":0.019},{"t":"L","m":12,"x":36,"d":0.052,"g":0.010},{"t":"L","m":12,"x":38,"d":-0.017,"g":-0.004},{"t":"L","m":12,"x":40,"d":-0.073,"g":-0.016},{"t":"L","m":12,"x":42,"d":-0.089,"g":-0.020},{"t":"L","m":12,"x":44,"d":-0.057,"g":-0.013},{"t":"L","m":12,"x":46,"d":0.006,"g":0.001},{"t":"L","m":12,"x":48,"d":0.071,"g":0.014},{"t":"L","m":12,"x":50,"d":0.098,"g":0.019},{"t":"L","m":12,"x":52,"d":0.071,"g":0.014},{"t":"L","m":12,"x":54,"d":0.006,"g":0.001},{"t":"L","m":12,"x":56,"d":-0.052,"g":-0.013},{"t":"L","m":12,"x":58,"d":-0.081,"g":-0.020},{"t":"L","m":12,"x":60,"d":-0.066,"g":-0.016},{"t":"L","m":12,"x":62,"d":-0.015,"g":-0.004},{"t":"L","m":12,"x":64,"d":0.048,"g":0.010},{"t":"L","m":12,"x":66,"d":0.087,"g":0.019},{"t":"L","m":12,"x":68,"d":0.079,"g":0.017},{"t":"L","m":12,"x":70,"d":0.028,"g":0.006},{"t":"L","m":12,"x":72,"d":-0.046,"g":-0.008},{"t":"L","m":12,"x":74,"d":-0.100,"g":-0.019},{"t":"L","m":12,"x":76,"d":-0.100,"g":-0.019},{"t":"L","m":12,"x":78,"d":-0.046,"g":-0.008},{"t":"L","m":12,"x":80,"d":0.031,"g":0.006},{"t":"L","m":12,"x":82,"d":0.088,"g":0.018},{"t":"L","m":12,"x":84,"d":0.097,"g":0.020},{"t":"L","m":12,"x":86,"d":0.054,"g":0.011},{"t":"L","m":12,"x":88,"d":-0.022,"g":-0.004},{"t":"L","m":12,"x":90,"d":-0.097,"g":-0.017},{"t":"L","m":12,"x":92,"d":-0.119,"g":-0.021},{"t":"L","m":12,"x":94,"d":-0.076,"g":-0.013},{"t":"L","m":12,"x":96,"d":0.008,"g":0.002},{"t":"L","m":12,"x":98,"d":0.091,"g":0.016},{"t":"L","m":12,"x":100,"d":0.125,"g":0.024},

{"t":"P","m":1,"px":101.2,"py":0.016},{"t":"P","m":1,"px":102.1,"py":-0.027},{"t":"P","m":1,"px":103.0,"py":0.041},{"t":"P","m":1,"px":103.8,"py":-0.009},{"t":"P","m":1,"px":104.5,"py":0.025},{"t":"P","m":1,"px":105.1,"py":-0.043},{"t":"P","m":1,"px":105.9,"py":0.007},{"t":"P","m":1,"px":106.6,"py":-0.020},{"t":"P","m":1,"px":107.3,"py":0.032},{"t":"P","m":1,"px":108.0,"py":-0.034},{"t":"P","m":1,"px":108.7,"py":0.011},{"t":"P","m":1,"px":109.4,"py":-0.014},{"t":"P","m":1,"px":110.1,"py":0.027},{"t":"P","m":1,"px":101.7,"py":-0.038},{"t":"P","m":1,"px":102.6,"py":0.002},{"t":"P","m":1,"px":104.1,"py":0.045},{"t":"P","m":1,"px":106.2,"py":-0.005},{"t":"P","m":1,"px":107.8,"py":0.020},{"t":"P","m":1,"px":109.0,"py":-0.025},{"t":"P","m":1,"px":110.3,"py":-0.047},
{"t":"P","m":2,"px":101.2,"py":0.013},{"t":"P","m":2,"px":102.1,"py":-0.022},{"t":"P","m":2,"px":103.0,"py":0.032},{"t":"P","m":2,"px":103.8,"py":-0.007},{"t":"P","m":2,"px":104.5,"py":0.020},{"t":"P","m":2,"px":105.1,"py":-0.034},{"t":"P","m":2,"px":105.9,"py":0.005},{"t":"P","m":2,"px":106.6,"py":-0.016},{"t":"P","m":2,"px":107.3,"py":0.025},{"t":"P","m":2,"px":108.0,"py":-0.027},{"t":"P","m":2,"px":108.7,"py":0.009},{"t":"P","m":2,"px":109.4,"py":-0.011},{"t":"P","m":2,"px":110.1,"py":0.022},{"t":"P","m":2,"px":101.7,"py":-0.031},{"t":"P","m":2,"px":102.6,"py":0.002},{"t":"P","m":2,"px":104.1,"py":0.036},{"t":"P","m":2,"px":106.2,"py":-0.004},{"t":"P","m":2,"px":107.8,"py":0.016},{"t":"P","m":2,"px":109.0,"py":-0.020},{"t":"P","m":2,"px":110.3,"py":-0.038},
{"t":"P","m":3,"px":101.2,"py":0.012},{"t":"P","m":3,"px":102.1,"py":-0.020},{"t":"P","m":3,"px":103.0,"py":0.030},{"t":"P","m":3,"px":103.8,"py":-0.007},{"t":"P","m":3,"px":104.5,"py":0.018},{"t":"P","m":3,"px":105.1,"py":-0.031},{"t":"P","m":3,"px":105.9,"py":0.005},{"t":"P","m":3,"px":106.6,"py":-0.015},{"t":"P","m":3,"px":107.3,"py":0.023},{"t":"P","m":3,"px":108.0,"py":-0.025},{"t":"P","m":3,"px":108.7,"py":0.008},{"t":"P","m":3,"px":109.4,"py":-0.010},{"t":"P","m":3,"px":110.1,"py":0.020},{"t":"P","m":3,"px":101.7,"py":-0.028},{"t":"P","m":3,"px":102.6,"py":0.002},{"t":"P","m":3,"px":104.1,"py":0.033},{"t":"P","m":3,"px":106.2,"py":-0.003},{"t":"P","m":3,"px":107.8,"py":0.015},{"t":"P","m":3,"px":109.0,"py":-0.018},{"t":"P","m":3,"px":110.3,"py":-0.035},
{"t":"P","m":4,"px":101.2,"py":0.011},{"t":"P","m":4,"px":102.1,"py":-0.018},{"t":"P","m":4,"px":103.0,"py":0.027},{"t":"P","m":4,"px":103.8,"py":-0.006},{"t":"P","m":4,"px":104.5,"py":0.017},{"t":"P","m":4,"px":105.1,"py":-0.029},{"t":"P","m":4,"px":105.9,"py":0.005},{"t":"P","m":4,"px":106.6,"py":-0.014},{"t":"P","m":4,"px":107.3,"py":0.021},{"t":"P","m":4,"px":108.0,"py":-0.023},{"t":"P","m":4,"px":108.7,"py":0.008},{"t":"P","m":4,"px":109.4,"py":-0.009},{"t":"P","m":4,"px":110.1,"py":0.018},{"t":"P","m":4,"px":101.7,"py":-0.026},{"t":"P","m":4,"px":102.6,"py":0.002},{"t":"P","m":4,"px":104.1,"py":0.030},{"t":"P","m":4,"px":106.2,"py":-0.003},{"t":"P","m":4,"px":107.8,"py":0.014},{"t":"P","m":4,"px":109.0,"py":-0.017},{"t":"P","m":4,"px":110.3,"py":-0.032},
{"t":"P","m":5,"px":101.2,"py":0.008},{"t":"P","m":5,"px":102.1,"py":-0.014},{"t":"P","m":5,"px":103.0,"py":0.022},{"t":"P","m":5,"px":103.8,"py":-0.005},{"t":"P","m":5,"px":104.5,"py":0.013},{"t":"P","m":5,"px":105.1,"py":-0.023},{"t":"P","m":5,"px":105.9,"py":0.004},{"t":"P","m":5,"px":106.6,"py":-0.011},{"t":"P","m":5,"px":107.3,"py":0.017},{"t":"P","m":5,"px":108.0,"py":-0.018},{"t":"P","m":5,"px":108.7,"py":0.006},{"t":"P","m":5,"px":109.4,"py":-0.007},{"t":"P","m":5,"px":110.1,"py":0.014},{"t":"P","m":5,"px":101.7,"py":-0.020},{"t":"P","m":5,"px":102.6,"py":0.001},{"t":"P","m":5,"px":104.1,"py":0.024},{"t":"P","m":5,"px":106.2,"py":-0.002},{"t":"P","m":5,"px":107.8,"py":0.011},{"t":"P","m":5,"px":109.0,"py":-0.013},{"t":"P","m":5,"px":110.3,"py":-0.025},
{"t":"P","m":6,"px":101.2,"py":0.007},{"t":"P","m":6,"px":102.1,"py":-0.013},{"t":"P","m":6,"px":103.0,"py":0.019},{"t":"P","m":6,"px":103.8,"py":-0.004},{"t":"P","m":6,"px":104.5,"py":0.012},{"t":"P","m":6,"px":105.1,"py":-0.020},{"t":"P","m":6,"px":105.9,"py":0.003},{"t":"P","m":6,"px":106.6,"py":-0.009},{"t":"P","m":6,"px":107.3,"py":0.015},{"t":"P","m":6,"px":108.0,"py":-0.016},{"t":"P","m":6,"px":108.7,"py":0.005},{"t":"P","m":6,"px":109.4,"py":-0.006},{"t":"P","m":6,"px":110.1,"py":0.013},{"t":"P","m":6,"px":101.7,"py":-0.018},{"t":"P","m":6,"px":102.6,"py":0.001},{"t":"P","m":6,"px":104.1,"py":0.021},{"t":"P","m":6,"px":106.2,"py":-0.002},{"t":"P","m":6,"px":107.8,"py":0.009},{"t":"P","m":6,"px":109.0,"py":-0.012},{"t":"P","m":6,"px":110.3,"py":-0.022},
{"t":"P","m":7,"px":101.2,"py":0.006},{"t":"P","m":7,"px":102.1,"py":-0.010},{"t":"P","m":7,"px":103.0,"py":0.015},{"t":"P","m":7,"px":103.8,"py":-0.003},{"t":"P","m":7,"px":104.5,"py":0.009},{"t":"P","m":7,"px":105.1,"py":-0.016},{"t":"P","m":7,"px":105.9,"py":0.003},{"t":"P","m":7,"px":106.6,"py":-0.008},{"t":"P","m":7,"px":107.3,"py":0.012},{"t":"P","m":7,"px":108.0,"py":-0.013},{"t":"P","m":7,"px":108.7,"py":0.004},{"t":"P","m":7,"px":109.4,"py":-0.005},{"t":"P","m":7,"px":110.1,"py":0.010},{"t":"P","m":7,"px":101.7,"py":-0.014},{"t":"P","m":7,"px":102.6,"py":0.001},{"t":"P","m":7,"px":104.1,"py":0.017},{"t":"P","m":7,"px":106.2,"py":-0.002},{"t":"P","m":7,"px":107.8,"py":0.008},{"t":"P","m":7,"px":109.0,"py":-0.009},{"t":"P","m":7,"px":110.3,"py":-0.018},
{"t":"P","m":8,"px":101.2,"py":0.005},{"t":"P","m":8,"px":102.1,"py":-0.009},{"t":"P","m":8,"px":103.0,"py":0.014},{"t":"P","m":8,"px":103.8,"py":-0.003},{"t":"P","m":8,"px":104.5,"py":0.008},{"t":"P","m":8,"px":105.1,"py":-0.014},{"t":"P","m":8,"px":105.9,"py":0.002},{"t":"P","m":8,"px":106.6,"py":-0.007},{"t":"P","m":8,"px":107.3,"py":0.011},{"t":"P","m":8,"px":108.0,"py":-0.011},{"t":"P","m":8,"px":108.7,"py":0.004},{"t":"P","m":8,"px":109.4,"py":-0.005},{"t":"P","m":8,"px":110.1,"py":0.009},{"t":"P","m":8,"px":101.7,"py":-0.013},{"t":"P","m":8,"px":102.6,"py":0.001},{"t":"P","m":8,"px":104.1,"py":0.015},{"t":"P","m":8,"px":106.2,"py":-0.002},{"t":"P","m":8,"px":107.8,"py":0.007},{"t":"P","m":8,"px":109.0,"py":-0.008},{"t":"P","m":8,"px":110.3,"py":-0.016},
{"t":"P","m":9,"px":101.2,"py":0.005},{"t":"P","m":9,"px":102.1,"py":-0.009},{"t":"P","m":9,"px":103.0,"py":0.014},{"t":"P","m":9,"px":103.8,"py":-0.003},{"t":"P","m":9,"px":104.5,"py":0.008},{"t":"P","m":9,"px":105.1,"py":-0.014},{"t":"P","m":9,"px":105.9,"py":0.002},{"t":"P","m":9,"px":106.6,"py":-0.007},{"t":"P","m":9,"px":107.3,"py":0.011},{"t":"P","m":9,"px":108.0,"py":-0.011},{"t":"P","m":9,"px":108.7,"py":0.004},{"t":"P","m":9,"px":109.4,"py":-0.005},{"t":"P","m":9,"px":110.1,"py":0.009},{"t":"P","m":9,"px":101.7,"py":-0.013},{"t":"P","m":9,"px":102.6,"py":0.001},{"t":"P","m":9,"px":104.1,"py":0.015},{"t":"P","m":9,"px":106.2,"py":-0.002},{"t":"P","m":9,"px":107.8,"py":0.007},{"t":"P","m":9,"px":109.0,"py":-0.008},{"t":"P","m":9,"px":110.3,"py":-0.016},
{"t":"P","m":10,"px":101.2,"py":0.004},{"t":"P","m":10,"px":102.1,"py":-0.007},{"t":"P","m":10,"px":103.0,"py":0.011},{"t":"P","m":10,"px":103.8,"py":-0.002},{"t":"P","m":10,"px":104.5,"py":0.007},{"t":"P","m":10,"px":105.1,"py":-0.011},{"t":"P","m":10,"px":105.9,"py":0.002},{"t":"P","m":10,"px":106.6,"py":-0.005},{"t":"P","m":10,"px":107.3,"py":0.008},{"t":"P","m":10,"px":108.0,"py":-0.009},{"t":"P","m":10,"px":108.7,"py":0.003},{"t":"P","m":10,"px":109.4,"py":-0.004},{"t":"P","m":10,"px":110.1,"py":0.007},{"t":"P","m":10,"px":101.7,"py":-0.010},{"t":"P","m":10,"px":102.6,"py":0.001},{"t":"P","m":10,"px":104.1,"py":0.012},{"t":"P","m":10,"px":106.2,"py":-0.001},{"t":"P","m":10,"px":107.8,"py":0.005},{"t":"P","m":10,"px":109.0,"py":-0.007},{"t":"P","m":10,"px":110.3,"py":-0.013},
{"t":"P","m":11,"px":101.2,"py":0.004},{"t":"P","m":11,"px":102.1,"py":-0.007},{"t":"P","m":11,"px":103.0,"py":0.010},{"t":"P","m":11,"px":103.8,"py":-0.002},{"t":"P","m":11,"px":104.5,"py":0.006},{"t":"P","m":11,"px":105.1,"py":-0.010},{"t":"P","m":11,"px":105.9,"py":0.002},{"t":"P","m":11,"px":106.6,"py":-0.005},{"t":"P","m":11,"px":107.3,"py":0.008},{"t":"P","m":11,"px":108.0,"py":-0.008},{"t":"P","m":11,"px":108.7,"py":0.003},{"t":"P","m":11,"px":109.4,"py":-0.003},{"t":"P","m":11,"px":110.1,"py":0.007},{"t":"P","m":11,"px":101.7,"py":-0.009},{"t":"P","m":11,"px":102.6,"py":0.001},{"t":"P","m":11,"px":104.1,"py":0.011},{"t":"P","m":11,"px":106.2,"py":-0.001},{"t":"P","m":11,"px":107.8,"py":0.005},{"t":"P","m":11,"px":109.0,"py":-0.006},{"t":"P","m":11,"px":110.3,"py":-0.012},
{"t":"P","m":12,"px":101.2,"py":0.004},{"t":"P","m":12,"px":102.1,"py":-0.006},{"t":"P","m":12,"px":103.0,"py":0.009},{"t":"P","m":12,"px":103.8,"py":-0.002},{"t":"P","m":12,"px":104.5,"py":0.006},{"t":"P","m":12,"px":105.1,"py":-0.010},{"t":"P","m":12,"px":105.9,"py":0.002},{"t":"P","m":12,"px":106.6,"py":-0.005},{"t":"P","m":12,"px":107.3,"py":0.007},{"t":"P","m":12,"px":108.0,"py":-0.008},{"t":"P","m":12,"px":108.7,"py":0.003},{"t":"P","m":12,"px":109.4,"py":-0.003},{"t":"P","m":12,"px":110.1,"py":0.006},{"t":"P","m":12,"px":101.7,"py":-0.009},{"t":"P","m":12,"px":102.6,"py":0.001},{"t":"P","m":12,"px":104.1,"py":0.010},{"t":"P","m":12,"px":106.2,"py":-0.001},{"t":"P","m":12,"px":107.8,"py":0.005},{"t":"P","m":12,"px":109.0,"py":-0.006},{"t":"P","m":12,"px":110.3,"py":-0.011}
]},
"transform":[{"lookup":"m","from":{"data":{"values":[{"m":1,"r":1,"c":1},{"m":2,"r":1,"c":2},{"m":3,"r":1,"c":3},{"m":4,"r":2,"c":1},{"m":5,"r":2,"c":2},{"m":6,"r":2,"c":3},{"m":7,"r":3,"c":1},{"m":8,"r":3,"c":2},{"m":9,"r":3,"c":3},{"m":10,"r":4,"c":1},{"m":11,"r":4,"c":2},{"m":12,"r":4,"c":3}]},"key":"m","fields":["r","c"]}}],
"title":{"text":["Mode","coefficients","from W"],"orient":"right","anchor":"middle","angle":0,"align":"left","baseline":"middle","font":"Liberation Serif","fontSize":15,"fontWeight":"normal","lineHeight":15,"offset":-81,"dy":-36,"color":"#111"},
"facet":{
 "row":{"field":"r","type":"ordinal","title":["(modes)","vectors","singular","Right"],"header":{"labels":false,"titleOrient":"left","titleAngle":0,"titleAlign":"right","titleBaseline":"top","titleFontSize":15,"titleLineHeight":-15.5,"titlePadding":-57}},
 "column":{"field":"c","type":"ordinal","title":"Percentage of book","header":{"labels":false,"labelOrient":"bottom","titleOrient":"bottom","titleFontSize":15,"titlePadding":9}}
},
"spacing":{"row":8,"column":6.5},
"spec":{
 "width":185,"height":161,
 "resolve":{"axis":{"y":"independent"}},
 "layer":[
  {"transform":[{"filter":"datum.t=='L' && isValid(datum.g)"}],
   "mark":{"type":"line","color":"#7a7a7a","strokeWidth":2,"interpolate":"monotone"},
   "encoding":{
    "x":{"field":"x","type":"quantitative","scale":{"domain":[0,111],"nice":false,"zero":false},"axis":{"orient":"bottom","labels":false,"values":[0,20,40,60,80,100],"title":null}},
    "y":{"field":"g","type":"quantitative","scale":{"domain":[-0.153,0.153],"nice":false,"zero":false},"axis":{"orient":"left","values":[-0.1,0,0.1],"format":".1f","title":null}}}},
  {"transform":[{"filter":"datum.t=='L'"}],
   "mark":{"type":"line","color":"#1a1a1a","strokeWidth":2,"interpolate":"monotone"},
   "encoding":{
    "x":{"field":"x","type":"quantitative","axis":null},
    "y":{"field":"d","type":"quantitative","axis":null}}},
  {"transform":[{"filter":"datum.t=='P'"}],
   "mark":{"type":"circle","size":4,"color":"#333","opacity":0.9},
   "encoding":{
    "x":{"field":"px","type":"quantitative","axis":null},
    "y":{"field":"py","type":"quantitative","axis":{"orient":"right","values":[-0.0774,0,0.0774],"labelExpr":"datum.value > 0.01 ? '0.5' : (datum.value < -0.01 ? '\u22120.5' : '0')","title":null,"grid":false,"ticks":false,"labelPadding":5}}}},
  {"transform":[{"filter":"datum.t=='E'"}],
   "mark":{"type":"rect","fill":"#2a2a2a","fillOpacity":0.75,"stroke":"#000","strokeWidth":1},
   "encoding":{
    "x":{"datum":100.4,"type":"quantitative","axis":null},"x2":{"datum":110.7},
    "y":{"field":"blo","type":"quantitative","axis":null},"y2":{"field":"bhi"}}},
  {"transform":[{"filter":"datum.t=='E'"}],
   "mark":{"type":"rule","color":"#000","strokeWidth":1.2},
   "encoding":{
    "x":{"datum":105.5,"type":"quantitative","axis":null},
    "y":{"field":"lo","type":"quantitative","axis":null},"y2":{"field":"hi"}}},
  {"transform":[{"filter":"datum.t=='E'"}],
   "mark":{"type":"rule","color":"#000","strokeWidth":1.2},
   "encoding":{
    "x":{"datum":103,"type":"quantitative","axis":null},"x2":{"datum":108},
    "y":{"field":"hi","type":"quantitative","axis":null}}},
  {"transform":[{"filter":"datum.t=='E'"}],
   "mark":{"type":"rule","color":"#000","strokeWidth":1.2},
   "encoding":{
    "x":{"datum":103,"type":"quantitative","axis":null},"x2":{"datum":108},
    "y":{"field":"lo","type":"quantitative","axis":null}}},
  {"transform":[{"filter":"datum.t=='E'"}],
   "mark":{"type":"rule","color":"#111","strokeWidth":1.6},
   "encoding":{
    "x":{"datum":100,"type":"quantitative","axis":null}}},
  {"transform":[{"filter":"datum.t=='E' && datum.m < 10"}],
   "mark":{"type":"rect","fill":"white","stroke":"#111","strokeWidth":1.3},
   "encoding":{
    "x":{"datum":1.2,"type":"quantitative","axis":null},"x2":{"datum":33},
    "y":{"datum":0.110,"type":"quantitative","axis":null},"y2":{"datum":0.149}}},
  {"transform":[{"filter":"datum.t=='E' && datum.m >= 10"}],
   "mark":{"type":"rect","fill":"white","stroke":"#111","strokeWidth":1.3},
   "encoding":{
    "x":{"datum":1.2,"type":"quantitative","axis":null},"x2":{"datum":37.5},
    "y":{"datum":0.110,"type":"quantitative","axis":null},"y2":{"datum":0.149}}},
  {"transform":[{"filter":"datum.t=='E'"}],
   "mark":{"type":"text","align":"left","baseline":"middle","font":"Liberation Serif","fontSize":14,"color":"#111"},
   "encoding":{
    "x":{"datum":4.2,"type":"quantitative","axis":null},
    "y":{"datum":0.1295,"type":"quantitative","axis":null},
    "text":{"field":"label"}}},
  {"transform":[{"filter":"datum.t=='X'"}],
   "mark":{"type":"text","align":"center","baseline":"top","dy":6,"font":"Liberation Serif","fontSize":11,"color":"#111"},
   "encoding":{
    "x":{"field":"v","type":"quantitative","axis":null},
    "y":{"datum":-0.153,"type":"quantitative","axis":null},
    "text":{"field":"v","type":"quantitative"}}}
 ]
},
"config":{
 "view":{"stroke":"#111","strokeWidth":1.6},
 "font":"Liberation Serif",
 "axis":{"labelFont":"Liberation Serif","labelFontSize":11,"labelColor":"#111","domain":false,"ticks":false,"gridColor":"#111","gridWidth":1,"gridOpacity":1,"labelPadding":5},
 "axisX":{"gridDash":[4,153,4,1000]},
 "axisY":{"gridDash":[4,177,4,1000]},
 "header":{"titleFont":"Liberation Serif","titleFontSize":15,"titleFontWeight":"normal","titleColor":"#111"}
}
}
